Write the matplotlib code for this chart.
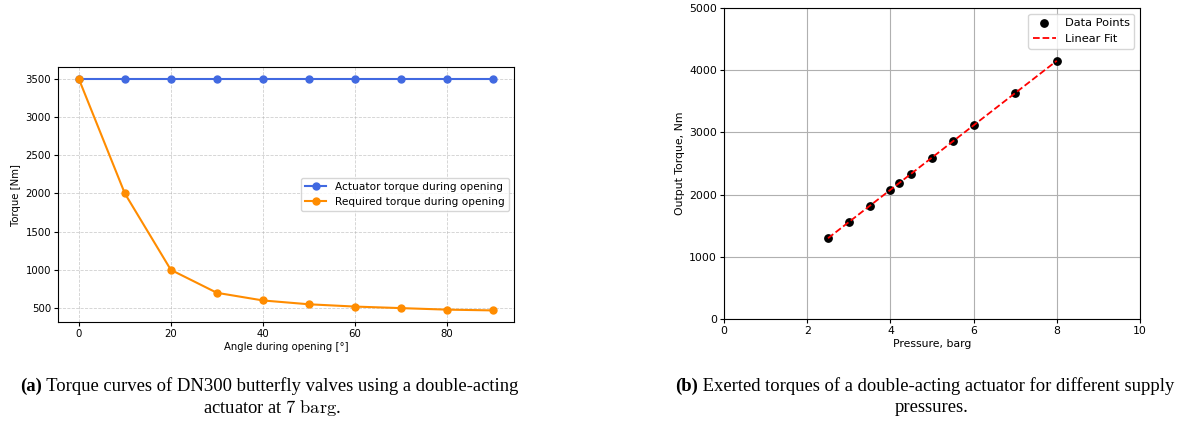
import numpy as np
import matplotlib
matplotlib.use("Agg")
import matplotlib.pyplot as plt

# (a) torque curves during opening
angle = [0, 10, 20, 30, 40, 50, 60, 70, 80, 90]
actuator_torque = [3500, 3500, 3500, 3500, 3500, 3500, 3500, 3500, 3500, 3500]
required_torque = [3500, 2000, 1000, 700, 600, 550, 520, 500, 480, 470]

# (b) exerted torque vs supply pressure
pressure = [2.5, 3.0, 3.5, 4.0, 4.2, 4.5, 5.0, 5.5, 6.0, 7.0, 8.0]
output_torque = [1300, 1560, 1815, 2075, 2180, 2335, 2595, 2855, 3115, 3635, 4150]

W, H = 1180, 421
fig = plt.figure(figsize=(W / 100, H / 100), dpi=100)
plt.rcParams['mathtext.fontset'] = 'cm'

def px_axes(x0, y0, x1, y1):
    return fig.add_axes([x0 / W, 1 - y1 / H, (x1 - x0) / W, (y1 - y0) / H])

# left plot
ax1 = px_axes(58, 67, 514, 322)
ax1.plot(angle, actuator_torque, marker='o', color='royalblue', markersize=5,
         linewidth=1.5, label='Actuator torque during opening')
ax1.plot(angle, required_torque, marker='o', color='darkorange', markersize=5,
         linewidth=1.5, label='Required torque during opening')
ax1.set_xlabel('Angle during opening [°]', fontsize=7.3, labelpad=2)
ax1.set_ylabel('Torque [Nm]', fontsize=7.3, labelpad=3)
ax1.tick_params(labelsize=7.3, length=3, pad=2)
ax1.grid(True, linestyle='--', alpha=0.6, linewidth=0.6)
ax1.legend(loc='center right', fontsize=7.6, framealpha=0.8)

# right plot
ax2 = px_axes(724, 8, 1140, 319)
ax2.scatter(pressure, output_torque, color='black', s=28, label='Data Points', zorder=3)
coef = np.polyfit(pressure, output_torque, 1)
ax2.plot(pressure, np.polyval(coef, pressure), 'r--', linewidth=1.3, label='Linear Fit', zorder=4)
ax2.set_xlim(0, 10)
ax2.set_ylim(0, 5000)
ax2.set_xlabel('Pressure, barg', fontsize=7.8, labelpad=2)
ax2.set_ylabel('Output Torque, Nm', fontsize=7.8, labelpad=3)
ax2.tick_params(labelsize=7.8, length=3, pad=2)
ax2.grid(True, linewidth=0.8, color='#b0b0b0')
ax2.legend(loc='upper right', fontsize=8.2)

# captions
cap_font = dict(family='Liberation Serif', fontsize=13.4)

def caption(cx, y, bold, rest):
    fig.canvas.draw()
    r = fig.canvas.get_renderer()
    tb = fig.text(0, 1 - y / H, bold, fontweight='bold', va='center', **cap_font)
    tr = fig.text(0, 1 - y / H, rest, va='center', **cap_font)
    wb = tb.get_window_extent(r).width
    wr = tr.get_window_extent(r).width
    x0 = cx - (wb + wr) / 2
    tb.set_x(x0 / W)
    tr.set_x((x0 + wb) / W)

caption(269, 386, '(a)', ' Torque curves of DN300 butterfly valves using a double-acting')
fig.text(272 / W, 1 - 408 / H, r'actuator at $7\;\mathrm{barg}$.', ha='center', va='center', **cap_font)
caption(925, 386, '(b)', ' Exerted torques of a double-acting actuator for different supply')
fig.text(932 / W, 1 - 408 / H, 'pressures.', ha='center', va='center', **cap_font)

fig.savefig('out.png', dpi=100)
